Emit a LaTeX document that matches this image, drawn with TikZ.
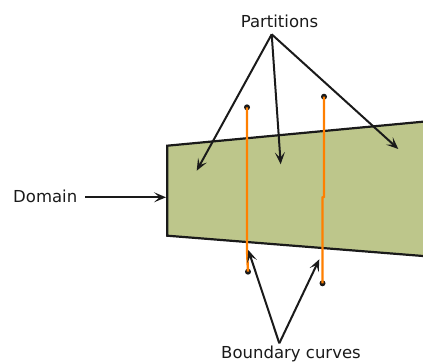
\documentclass[tikz,border=0pt]{standalone}
\usepackage{fontspec}
\setmainfont{DejaVu Sans}
\usetikzlibrary{arrows.meta,calc}
\definecolor{ink}{HTML}{1A1A1A}
\definecolor{dom}{HTML}{BDC68B}
\definecolor{bc}{HTML}{FF7F00}
\tikzset{
  lab/.style={font=\fontsize{16.5}{19}\selectfont,text=ink,inner sep=0pt,anchor=base},
  edge/.style={draw=ink,line width=2.2pt,line join=miter},
  ptr/.style={-{Stealth[length=12pt,width=10pt,inset=5.5pt]},line width=2pt,ink},
  curve/.style={bc,line width=2.4pt},
  tip/.style={circle,fill=ink,inner sep=0pt,minimum size=6pt}
}

\begin{document}
\begin{tikzpicture}[x=1pt,y=-1pt]
\useasboundingbox (0,0) rectangle (423,363);
% ---------------- domain ----------------
\path[edge,fill=dom] (423,121.7) -- (167.3,145.7) -- (167.3,235.7) -- (423,256);
% ---------------- boundary curves ----------------
\node[tip] (b1t) at (247,107.3) {};
\node[tip] (b1b) at (248,271.7) {};
\node[tip] (b2t) at (324,96.7) {};
\node[tip] (b2b) at (322.5,283.3) {};
\draw[curve] (b1t.center) -- (247,250) -- (b1b.center);
\draw[curve] (b2t.center) -- (324,196.7) -- (322.5,197.5) -- (b2b.center);
% ---------------- labels ----------------
\node[lab] (part) at (279.5,28) {Partitions};
\node[lab,anchor=base west] (domain) at (13,202.7) {Domain};
\node[lab] (bound) at (291,358.5) {Boundary curves};
% ---------------- pointers ----------------
\coordinate (pa) at (271.7,34.3);
\coordinate (ba) at (279.3,343.3);
\coordinate (p1) at (196.7,170.7);
\coordinate (p2) at (280.7,164.3);
\coordinate (p3) at (398.3,149);
\coordinate (dl) at (85.3,197.3);
\coordinate (dr) at (166,197.3);
\coordinate (c1) at (248.3,250);
\coordinate (c2) at (319.3,259.3);
\draw[ptr] (pa) -- (p1);
\draw[ptr] (pa) -- (p2);
\draw[ptr] (pa) -- (p3);
\draw[ptr] (dl) -- (dr);
\draw[ptr] (ba) -- (c1);
\draw[ptr] (ba) -- (c2);
\end{tikzpicture}
\end{document}
